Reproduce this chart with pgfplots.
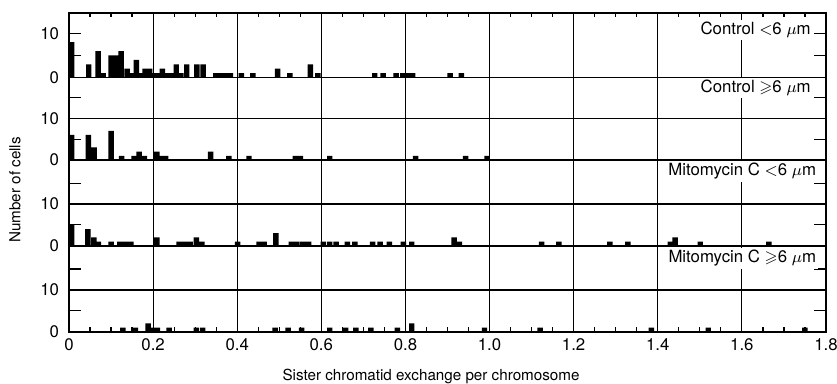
\documentclass[border=0pt]{standalone}
\usepackage{fontspec}
\setmainfont{TeX Gyre Heros}
\usepackage{amssymb}
\usepackage{pgfplots}
\pgfplotsset{compat=1.18}
\newcommand{\fs}{\fontsize{7.6}{9}\selectfont}
\newcommand{\fl}{\fontsize{8.4}{10}\selectfont}
\tikzset{lab/.style={anchor=east, fill=white, inner sep=1pt, font=\fl}}
\pgfplotsset{
  panel/.style={
    scale only axis, width=378.5pt, xmin=0, xmax=1.8,
    xtick={0,0.2,0.4,0.6,0.8,1.0,1.2,1.4,1.6,1.8},
    xticklabels={},
    xmajorgrids,
    major grid style={black, line width=0.6pt},
    axis line style={line width=0.9pt},
    tick style={black, line width=0.6pt},
    major tick length=6pt, minor tick length=2.2pt,
    ytick pos=both,
    tick label style={font=\fl},
    /pgf/number format/assume math mode=true,
    yticklabel style={xshift=-1.5pt},
    clip=true,
    anchor=south west,
  },
  bars/.style={ybar, bar width=0.013, fill=black, draw=none},
}
\begin{document}
\begin{tikzpicture}
\useasboundingbox (-34.5pt,-26.15pt) rectangle (384pt,165.85pt);
% Panel 1: Control < 6 um
\begin{axis}[panel, at={(0pt,127.1pt)}, height=32.4pt, ymin=0, ymax=14.7,
  ytick={0,5,10}, yticklabels={0,,10},
  xtick pos=right, minor x tick num=3]
\addplot[bars] coordinates {
(0.006,8) (0.047,3) (0.069,6) (0.081,1) (0.100,5) (0.112,5) (0.124,6) (0.138,2)
(0.148,1) (0.160,4) (0.172,1) (0.181,2) (0.192,2) (0.204,1) (0.213,1) (0.222,2)
(0.232,1) (0.242,1) (0.255,3) (0.266,1) (0.280,3) (0.304,3) (0.319,3) (0.349,1)
(0.358,1) (0.372,1) (0.384,1) (0.410,1) (0.437,1) (0.496,2) (0.525,1) (0.574,3)
(0.592,1) (0.727,1) (0.747,1) (0.778,1) (0.794,1) (0.806,1) (0.817,1) (0.906,1)
(0.933,1)};
\node[lab] at (rel axis cs:0.983,0.73) {Control $<$6 $\mu$m};
\end{axis}
% Panel 2: Control >= 6 um
\begin{axis}[panel, at={(0pt,85.85pt)}, height=41.25pt, ymin=0, ymax=19.8,
  ytick={0,5,10,15}, yticklabels={0,,10,},
  extra y ticks={10}, extra y tick labels={}, extra y tick style={grid=major},
  minor x tick num=0]
\addplot[bars] coordinates {
(0.006,6) (0.046,6) (0.060,3) (0.100,7) (0.125,1) (0.155,1) (0.167,2) (0.179,1)
(0.209,2) (0.220,1) (0.230,1) (0.337,2) (0.380,1) (0.428,1) (0.538,1) (0.550,1)
(0.620,1) (0.824,1) (0.943,1) (0.994,1)};
\node[lab] at (rel axis cs:0.983,0.873) {Control $\geqslant$6 $\mu$m};
\end{axis}
% Panel 3: Mitomycin C < 6 um
\begin{axis}[panel, at={(0pt,43pt)}, height=42.85pt, ymin=0, ymax=20.55,
  ytick={0,5,10,15}, yticklabels={0,,10,},
  extra y ticks={10}, extra y tick labels={}, extra y tick style={grid=major},
  minor x tick num=0]
\addplot[bars] coordinates {
(0.006,5) (0.045,4) (0.059,2) (0.070,1) (0.100,1) (0.121,1) (0.134,1) (0.147,1)
(0.209,2) (0.262,1) (0.275,1) (0.288,1) (0.303,2) (0.316,1) (0.401,1) (0.452,1)
(0.464,1) (0.492,3) (0.529,1) (0.542,1) (0.556,1) (0.570,1) (0.605,1) (0.620,1)
(0.635,1) (0.662,1) (0.680,1) (0.722,1) (0.740,1) (0.762,1) (0.795,1) (0.815,1)
(0.916,2) (0.928,1) (1.124,1) (1.165,1) (1.286,1) (1.329,1) (1.430,1) (1.441,2)
(1.501,1) (1.664,1)};
\node[lab] at (rel axis cs:0.99,0.866) {Mitomycin C $<$6 $\mu$m};
\end{axis}
% Panel 4: Mitomycin C >= 6 um
\begin{axis}[panel, at={(0pt,0pt)}, height=43pt, ymin=0, ymax=20.6,
  ytick={0,5,10,15}, yticklabels={0,,10,},
  extra y ticks={10}, extra y tick labels={}, extra y tick style={grid=major},
  xtick pos=left, minor x tick num=3,
  xticklabels={0,0.2,0.4,0.6,0.8,1.0,1.2,1.4,1.6,1.8}]
\addplot[bars] coordinates {
(0.128,1) (0.158,1) (0.188,2) (0.200,1) (0.210,1) (0.238,1) (0.303,1) (0.318,1)
(0.490,1) (0.521,1) (0.553,1) (0.620,1) (0.658,1) (0.682,1) (0.718,1) (0.781,1)
(0.815,2) (0.988,1) (1.120,1) (1.385,1) (1.520,1) (1.750,1)};
\node[lab] at (rel axis cs:0.99,0.851) {Mitomycin C $\geqslant$6 $\mu$m};
\end{axis}
\node[rotate=90, font=\fs] at (-27pt,70.9pt) {Number of cells};
\node[anchor=base, font=\fs] at (181pt,-24.5pt) {Sister chromatid exchange per chromosome};
\end{tikzpicture}
\end{document}
